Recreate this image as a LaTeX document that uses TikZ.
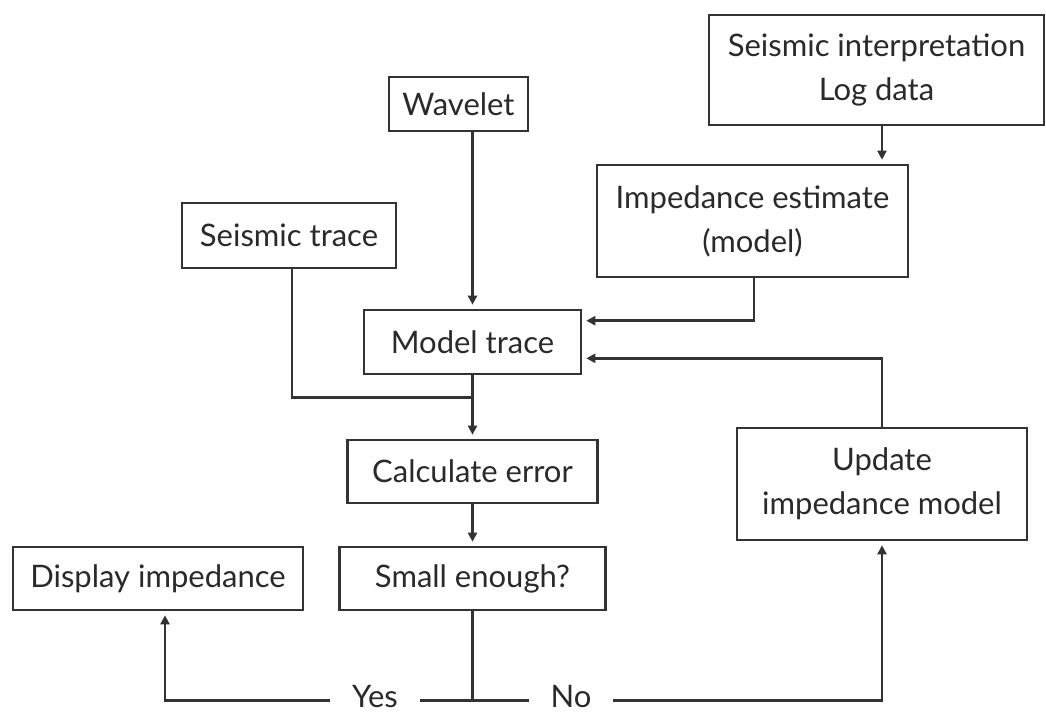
\documentclass[tikz,border=0pt]{standalone}
\usepackage{fontspec}
\setmainfont{Lato}
\usetikzlibrary{arrows.meta,calc}
\definecolor{ink}{HTML}{333333}
\definecolor{txt}{HTML}{2A2A2A}
\begin{document}
\begin{tikzpicture}[x=1pt,y=-1pt,
  box/.style={draw=ink,line width=2.6pt,inner sep=0pt,align=center,text=txt,font=\fontsize{31}{44}\selectfont},
  conn/.style={draw=ink,line width=2.6pt},
  arr/.style={conn,-{Triangle[length=9pt,width=9pt]},shorten >=4pt},
  lbl/.style={fill=white,inner xsep=22pt,inner ysep=0pt,text depth=0pt,text=txt,font=\fontsize{31}{44}\selectfont}]
\useasboundingbox (0,0) rectangle (1046,712);
\node[box,minimum width=139pt,minimum height=54pt] (wav) at (458.5,104) {Wavelet};
\node[box,minimum width=335pt,minimum height=110pt] (sip) at (876.5,70) {Seismic interpretation\\Log data};
\node[box,minimum width=311pt,minimum height=112pt] (imp) at (752.5,221) {Impedance estimate\\(model)};
\node[box,minimum width=214pt,minimum height=65pt] (st) at (289,235.5) {Seismic trace};
\node[box,minimum width=217pt,minimum height=64pt] (mt) at (472.5,342) {Model trace};
\node[box,minimum width=250pt,minimum height=63pt] (ce) at (472.5,471.5) {Calculate error};
\node[box,minimum width=266pt,minimum height=63pt] (se) at (472.5,578.5) {Small enough?};
\node[box,minimum width=290pt,minimum height=63pt] (di) at (158,578.5) {Display impedance};
\node[box,minimum width=290pt,minimum height=112pt] (up) at (882,484) {Update\\impedance model};
% connectors
\draw[arr] (mt.north |- wav.south) -- (mt.north);
\draw[arr] (up.north |- sip.south) -- (up.north |- imp.north);
\draw[arr] ([xshift=1.5pt]imp.south) |- ([yshift=-12pt]mt.north east);
\draw[arr] (up.north) |- ([yshift=17pt]mt.south east);
\coordinate (j1) at ([yshift=-22pt]mt.south);
\draw[conn] ([xshift=3pt]st.south) |- (j1);
\draw[arr] (mt.south) -- (ce.north);
\draw[arr] (ce.south) -- (se.north);
\coordinate (jb) at ([yshift=-89pt]se.south);
\draw[conn] (se.south) -- (jb);
\draw[arr] (jb) -| ([xshift=7pt]di.south);
\draw[arr] (jb) -| (up.south);
\node[lbl,anchor=base] (yes) at (375,707) {Yes};
\node[lbl,anchor=base] (no) at (571,707) {No};
\end{tikzpicture}
\end{document}
